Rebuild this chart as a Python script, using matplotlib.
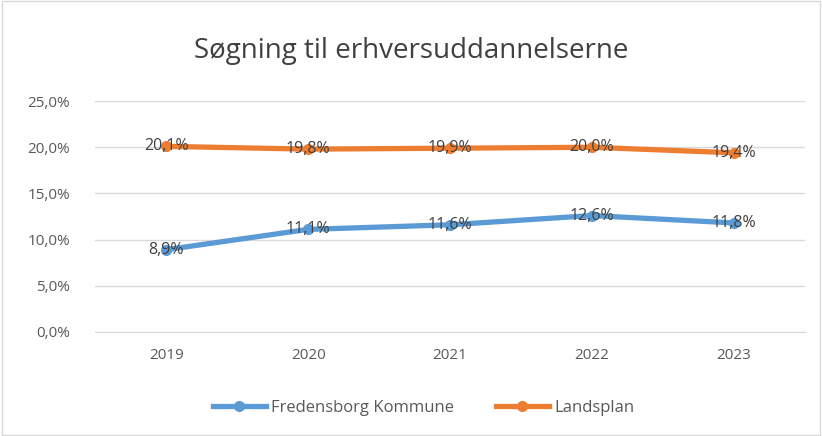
import matplotlib.pyplot as plt
from matplotlib.ticker import FuncFormatter

years = ['2019', '2020', '2021', '2022', '2023']
fredensborg = [8.9, 11.1, 11.6, 12.6, 11.8]
landsplan = [20.1, 19.8, 19.9, 20.0, 19.4]

plt.rcParams['font.family'] = ['Open Sans', 'DejaVu Sans']

fig = plt.figure(figsize=(8.22, 4.36), dpi=100)
ax = fig.add_axes([0.116, 0.239, 0.863, 0.529])

x = range(len(years))
ax.plot(x, fredensborg, color='#5B9BD5', lw=3.8, marker='o', ms=7, label='Fredensborg Kommune')
ax.plot(x, landsplan, color='#ED7D31', lw=3.8, marker='o', ms=7, label='Landsplan')

for xi, v in zip(x, fredensborg):
    ax.text(xi, v, f'{v:.1f}%'.replace('.', ','), ha='center', va='center', fontsize=11.5, color='#404040')
for xi, v in zip(x, landsplan):
    ax.text(xi, v, f'{v:.1f}%'.replace('.', ','), ha='center', va='center', fontsize=11.5, color='#404040')

ax.set_xlim(-0.5, 4.5)
ax.set_ylim(0, 25)
ax.set_yticks([0, 5, 10, 15, 20, 25])
ax.yaxis.set_major_formatter(FuncFormatter(lambda v, p: f'{v:.1f}%'.replace('.', ',')))
ax.set_xticks(list(x))
ax.set_xticklabels(years)
ax.grid(axis='y', color='#D9D9D9', lw=1)
ax.set_axisbelow(True)
for s in ['top', 'right', 'left']:
    ax.spines[s].set_visible(False)
ax.spines['bottom'].set_color('#D9D9D9')
ax.tick_params(length=0, colors='#595959', labelsize=11)
ax.tick_params(axis='y', pad=18)
ax.tick_params(axis='x', pad=12)

fig.suptitle('Søgning til erhversuddannelserne', y=0.915, fontsize=20, color='#404040')

fig.legend(loc='center', bbox_to_anchor=(0.515, 0.064), ncol=2, frameon=False,
           fontsize=12, labelcolor='#595959', handlelength=3.2, handletextpad=0.3,
           columnspacing=2.5)

fig.patches.append(plt.Rectangle((0.002, 0.002), 0.996, 0.996, transform=fig.transFigure,
                                 fill=False, edgecolor='#D9D9D9', lw=1))

fig.savefig('out.png', dpi=100)
